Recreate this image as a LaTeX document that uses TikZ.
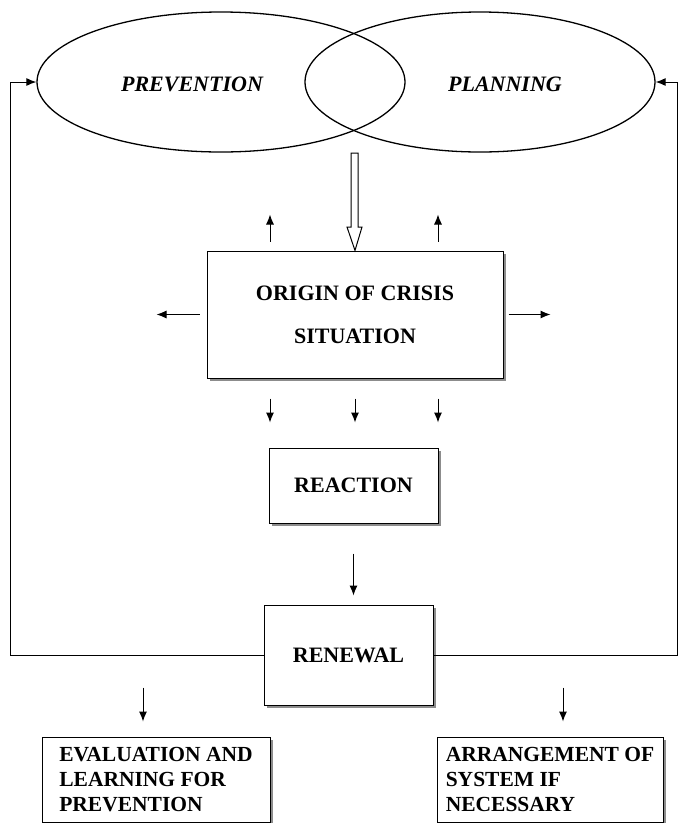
\documentclass[tikz,border=0pt]{standalone}
\usepackage{fontspec}
\setmainfont{Liberation Serif}
\usetikzlibrary{shapes.geometric, arrows.meta, shadows}

\begin{document}
\begin{tikzpicture}[x=1pt, y=-1pt, line width=1pt, >={Latex[length=10pt,width=8pt]},
    oval/.style={draw, ellipse, line width=1.3pt, minimum height=140pt, inner sep=0pt},
    word/.style={font=\fontsize{22}{26}\selectfont\bfseries\itshape},
    stage/.style={draw, fill=white, align=center, font=\fontsize{22}{25}\selectfont\bfseries,
        drop shadow={shadow xshift=2.5pt, shadow yshift=-2.5pt, opacity=0.9}},
    outcome/.style={stage, align=left, font=\fontsize{21.5}{25}\selectfont\bfseries, inner xsep=0pt, minimum height=85pt}]
        \useasboundingbox (0,0) rectangle (679,823);
        % the two overlapping ovals
        \node[oval, minimum width=368pt] (prev) at (221,82) {};
        \node[oval, minimum width=350pt] (plan) at (480,82) {};
        \node[word] (prevtxt) at (192,84) {PREVENTION};
        \node[word] (plantxt) at (505,84) {PLANNING};
        % the boxes
        \node[stage, minimum width=296pt, minimum height=127pt] (orig) at (355,314.5) {ORIGIN OF CRISIS\\[18pt]SITUATION};
        \node[stage, minimum width=169pt, minimum height=75pt] (react) at (353.5,485.5) {REACTION};
        \node[stage, minimum width=169pt, minimum height=100pt] (renew) at (348.5,655) {RENEWAL};
        \node[outcome, minimum width=228pt] (eval) at (156,779.5) {EVALUATION AND\\LEARNING FOR\\PREVENTION};
        \node[outcome, minimum width=226pt] (arr) at (550,779.5) {ARRANGEMENT OF\\SYSTEM IF\\NECESSARY};
        % hollow arrow into the origin box
        \draw (351,153) -- (351,227) -- (347,227) -- (orig.north) -- (362,227) -- (358,227) -- (358,153) -- cycle;
        % small arrows round the origin box
        \draw[->] ([xshift=-85pt,yshift=9pt]orig.north) -- ++(0,-27);
        \draw[->] ([xshift=83pt,yshift=9pt]orig.north) -- ++(0,-27);
        \draw[->] ([xshift=-7pt]orig.west) -- ++(-43,0);
        \draw[->] ([xshift=5pt]orig.east) -- ++(42,0);
        \draw[->] ([xshift=-85pt,yshift=-20pt]orig.south) -- ++(0,24);
        \draw[->] ([yshift=-20pt]orig.south) -- ++(0,24);
        \draw[->] ([xshift=83pt,yshift=-20pt]orig.south) -- ++(0,24);
        \draw[->] ([yshift=-30pt]react.south) -- ++(0,42);
        % feedback to the ovals
        \coordinate (backl) at (10,655);
        \coordinate (backr) at (677,655);
        \draw[->] (renew.west) -- (backl) |- (prev.west);
        \draw[->] (renew.east) -- (backr) |- (plan.east);
        \draw[->] ([xshift=-13pt,yshift=49pt]eval.north) -- ++(0,34);
        \draw[->] ([xshift=13pt,yshift=49pt]arr.north) -- ++(0,34);
    \end{tikzpicture}
\end{document}
